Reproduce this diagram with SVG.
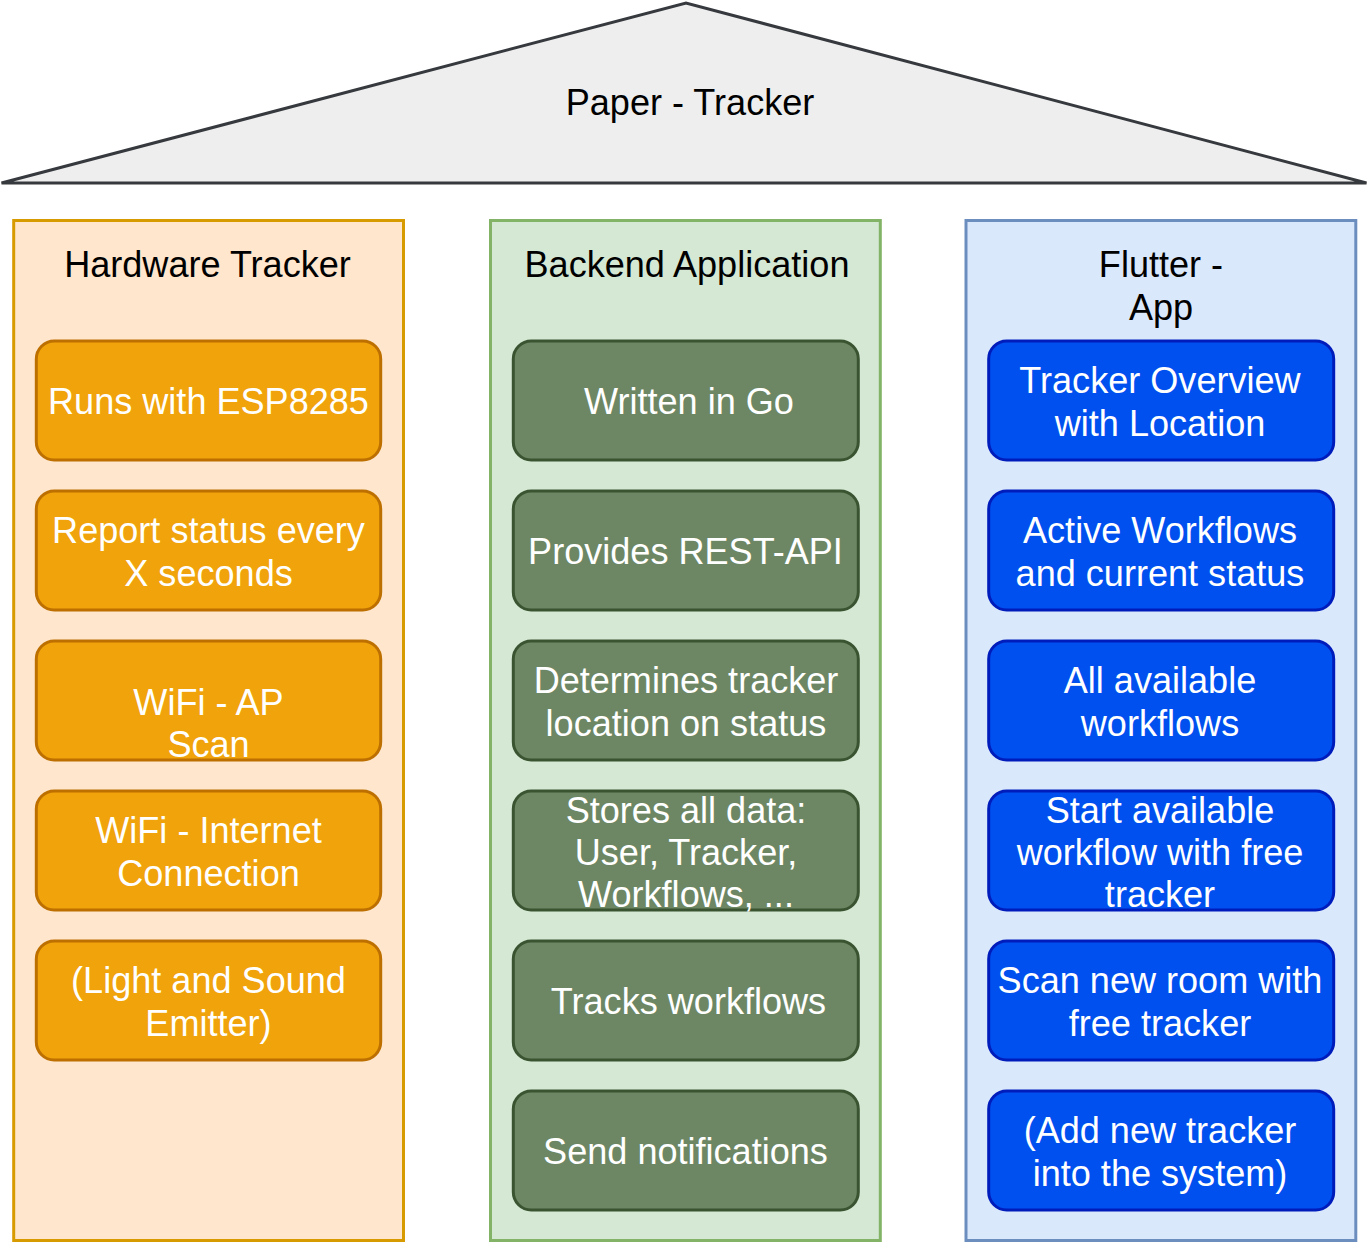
<svg xmlns="http://www.w3.org/2000/svg" width="1368" height="1242" viewBox="0 0 1368 1242">
<style>
text{font-family:"Liberation Sans",Arial,sans-serif;font-size:36.1px;text-anchor:middle}
.hd{fill:#000}
.bt{fill:#fff}
.col{stroke-width:3}
.box{stroke-width:3}
.o-col{fill:#ffe6cc;stroke:#d79b00}
.g-col{fill:#d5e8d4;stroke:#82b366}
.b-col{fill:#dae8fc;stroke:#6c8ebf}
.o{fill:#f0a30a;stroke:#bd7000}
.g{fill:#6d8764;stroke:#3a5431}
.b{fill:#0050ef;stroke:#001dbc}
</style>
<rect width="1368" height="1242" fill="#fff"/>
<g id="roof">
<polygon points="1.5,183 686,3 1366.5,183" fill="#eeeeee" stroke="#36393d" stroke-width="3" stroke-linejoin="miter"/>
<text class="hd" x="690" y="115">Paper - Tracker</text>
</g>
<g id="col-hardware">
<rect class="col o-col" x="13.7" y="220.5" width="389.8" height="1020"/>
<text class="hd" x="207.5" y="277">Hardware Tracker</text>
</g>
<g id="col-backend">
<rect class="col g-col" x="490.5" y="220.5" width="389.8" height="1020"/>
<text class="hd" x="687" y="277">Backend Application</text>
</g>
<g id="col-flutter">
<rect class="col b-col" x="966" y="220.5" width="389.8" height="1020"/>
<text class="hd" x="1161" y="277">Flutter -</text>
<text class="hd" x="1161" y="320">App</text>
</g>
<g id="hw1"><rect class="box o" x="36.3" y="341" width="344.4" height="119" rx="18"/><text class="bt" x="208.5" y="414">Runs with ESP8285</text></g>
<g id="hw2"><rect class="box o" x="36.3" y="491" width="344.4" height="119" rx="18"/><text class="bt" x="208.5" y="543">Report status every</text><text class="bt" x="208.5" y="586">X seconds</text></g>
<g id="hw3"><rect class="box o" x="36.3" y="641" width="344.4" height="119" rx="18"/><text class="bt" x="208.5" y="715">WiFi - AP</text><text class="bt" x="208.5" y="757">Scan</text></g>
<g id="hw4"><rect class="box o" x="36.3" y="791" width="344.4" height="119" rx="18"/><text class="bt" x="208.5" y="843">WiFi - Internet</text><text class="bt" x="208.5" y="886">Connection</text></g>
<g id="hw5"><rect class="box o" x="36.3" y="941" width="344.4" height="119" rx="18"/><text class="bt" x="208.5" y="993">(Light and Sound</text><text class="bt" x="208.5" y="1036">Emitter)</text></g>
<g id="be1"><rect class="box g" x="513.3" y="341" width="345" height="119" rx="18"/><text class="bt" x="689" y="414">Written in Go</text></g>
<g id="be2"><rect class="box g" x="513.3" y="491" width="345" height="119" rx="18"/><text class="bt" x="685.5" y="564">Provides REST-API</text></g>
<g id="be3"><rect class="box g" x="513.3" y="641" width="345" height="119" rx="18"/><text class="bt" x="686" y="693">Determines tracker</text><text class="bt" x="686" y="736">location on status</text></g>
<g id="be4"><rect class="box g" x="513.3" y="791" width="345" height="119" rx="18"/><text class="bt" x="686" y="823">Stores all data:</text><text class="bt" x="686" y="865">User, Tracker,</text><text class="bt" x="686" y="907">Workflows, ...</text></g>
<g id="be5"><rect class="box g" x="513.3" y="941" width="345" height="119" rx="18"/><text class="bt" x="688.5" y="1014">Tracks workflows</text></g>
<g id="be6"><rect class="box g" x="513.3" y="1091" width="345" height="119" rx="18"/><text class="bt" x="685.5" y="1164">Send notifications</text></g>
<g id="fa1"><rect class="box b" x="988.7" y="341" width="345" height="119" rx="18"/><text class="bt" x="1160" y="393">Tracker Overview</text><text class="bt" x="1160" y="436">with Location</text></g>
<g id="fa2"><rect class="box b" x="988.7" y="491" width="345" height="119" rx="18"/><text class="bt" x="1160" y="543">Active Workflows</text><text class="bt" x="1160" y="586">and current status</text></g>
<g id="fa3"><rect class="box b" x="988.7" y="641" width="345" height="119" rx="18"/><text class="bt" x="1160" y="693">All available</text><text class="bt" x="1160" y="736">workflows</text></g>
<g id="fa4"><rect class="box b" x="988.7" y="791" width="345" height="119" rx="18"/><text class="bt" x="1160" y="823">Start available</text><text class="bt" x="1160" y="865">workflow with free</text><text class="bt" x="1160" y="907">tracker</text></g>
<g id="fa5"><rect class="box b" x="988.7" y="941" width="345" height="119" rx="18"/><text class="bt" x="1160" y="993">Scan new room with</text><text class="bt" x="1160" y="1036">free tracker</text></g>
<g id="fa6"><rect class="box b" x="988.7" y="1091" width="345" height="119" rx="18"/><text class="bt" x="1160" y="1143">(Add new tracker</text><text class="bt" x="1160" y="1186">into the system)</text></g>
<g id="connectors"></g>
</svg>
